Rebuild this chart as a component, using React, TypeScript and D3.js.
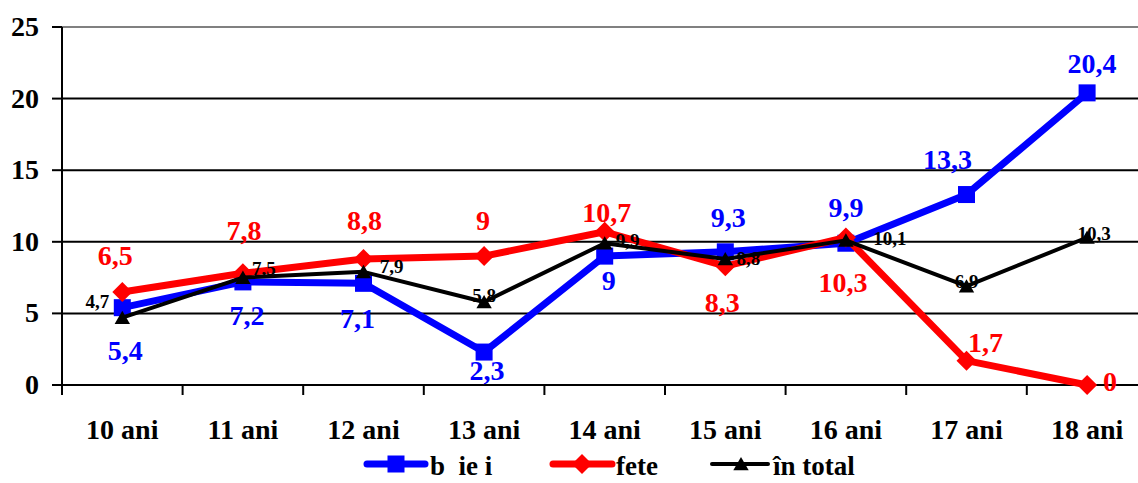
import React from "react";
import * as d3 from "d3";

// Age groups and rates per series
const categories = ["10 ani", "11 ani", "12 ani", "13 ani", "14 ani", "15 ani", "16 ani", "17 ani", "18 ani"];
const baieti = [5.4, 7.2, 7.1, 2.3, 9, 9.3, 9.9, 13.3, 20.4];
const fete = [6.5, 7.8, 8.8, 9, 10.7, 8.3, 10.3, 1.7, 0];
const total = [4.7, 7.5, 7.9, 5.8, 9.9, 8.8, 10.1, 6.9, 10.3];
const yTicks = [0, 5, 10, 15, 20, 25];
const legendLabels = ["b\u00a0\u00a0ie\u00a0i", "fete", "în total"];

// Label placement (centre dx, baseline dy) relative to each point
const blueLabelOffsets: [number, number][] = [[3, 52], [4, 43], [-6, 45], [3, 28], [4, 34], [3, -25], [0, -26], [-19, -26], [5, -20]];
const redLabelOffsets: [number, number][] = [[-7, -27], [1, -33], [1, -29], [-1, -26], [2, -10], [-3, 46], [-3, 54], [19, -9], [23, 6]];
const blackLabelOffsets: [number, number][] = [[-25, -10], [21, -3], [28, 1], [0, 0], [23, 4], [23, 6], [44, 5], [0, 2], [7, 2]];

const W = 1138;
const H = 483;
const FONT = "Liberation Serif";

const fmt = (v: number) => String(v).replace(".", ",");

export default function App() {
  const x = d3.scaleBand<string>().domain(categories).range([62, 62 + 9 * 120.6]).padding(0);
  const y = d3.scaleLinear().domain([0, 25]).range([385, 27]);
  const cx = (c: string) => (x(c) as number) + x.bandwidth() / 2;

  const line = d3
    .line<number>()
    .x((_, i) => cx(categories[i]))
    .y((d) => y(d));

  const square = (px: number, py: number, s: number) => (
    <rect x={px - s / 2} y={py - s / 2} width={s} height={s} fill="#0000FF" />
  );
  const diamond = (px: number, py: number, s: number) => (
    <path d={`M${px},${py - s / 2}L${px + s / 2},${py}L${px},${py + s / 2}L${px - s / 2},${py}Z`} fill="#FF0000" />
  );
  const triangle = (px: number, py: number, s: number) => (
    <path d={`M${px},${py - s * 0.5}L${px + s * 0.55},${py + s * 0.45}L${px - s * 0.55},${py + s * 0.45}Z`} fill="#000" />
  );

  const series = [
    { values: baieti, color: "#0000FF", width: 7, marker: (px: number, py: number) => square(px, py, 17), offsets: blueLabelOffsets, size: 28 },
    { values: fete, color: "#FF0000", width: 7, marker: (px: number, py: number) => diamond(px, py, 20), offsets: redLabelOffsets, size: 28 },
    { values: total, color: "#000000", width: 4, marker: (px: number, py: number) => triangle(px, py, 14), offsets: blackLabelOffsets, size: 19 },
  ];

  const boundaries = d3.range(categories.length + 1).map((i) => 62 + i * x.step());
  const textStyle = { fontFamily: FONT, fontWeight: 700 } as React.CSSProperties;

  return (
    <svg width={W} height={H} style={{ position: "absolute", left: 0, top: 0, background: "#fff" }}>
      {/* horizontal grid */}
      {yTicks.map((t) => (
        <line key={t} x1={62} x2={W} y1={y(t)} y2={y(t)} stroke={t === 25 ? "#808080" : "#000"} strokeWidth={2} />
      ))}
      {/* y axis */}
      <line x1={62} x2={62} y1={y(25)} y2={395} stroke="#000" strokeWidth={2} />
      {yTicks.map((t) => (
        <g key={"yt" + t}>
          <line x1={52} x2={62} y1={y(t)} y2={y(t)} stroke="#000" strokeWidth={2} />
          <text x={39} y={y(t) + 9} textAnchor="end" fontSize={28} style={textStyle}>{t}</text>
        </g>
      ))}
      {/* x axis ticks and labels */}
      {boundaries.map((bx, i) => (
        <line key={"xt" + i} x1={bx} x2={bx} y1={385} y2={395} stroke="#000" strokeWidth={2} />
      ))}
      {categories.map((c) => (
        <text key={c} x={cx(c)} y={439} textAnchor="middle" fontSize={28} style={textStyle}>{c}</text>
      ))}
      {/* series lines and markers */}
      {series.map((s, si) => (
        <g key={"s" + si}>
          <path d={line(s.values) as string} fill="none" stroke={s.color} strokeWidth={s.width} strokeLinejoin="round" />
          {s.values.map((v, i) => (
            <g key={i}>{s.marker(cx(categories[i]), y(v))}</g>
          ))}
        </g>
      ))}
      {/* data labels */}
      {series.map((s, si) =>
        s.values.map((v, i) => (
          <text
            key={"l" + si + "-" + i}
            x={cx(categories[i]) + s.offsets[i][0]}
            y={y(v) + s.offsets[i][1]}
            textAnchor="middle"
            fontSize={s.size}
            fill={s.color}
            style={textStyle}
          >
            {fmt(v)}
          </text>
        ))
      )}
      {/* legend */}
      {[
        { x1: 367, x2: 425, color: "#0000FF", w: 7, m: square(396, 464, 17), tx: 430, label: legendLabels[0] },
        { x1: 553, x2: 612, color: "#FF0000", w: 7, m: diamond(582, 464, 20), tx: 616, label: legendLabels[1] },
        { x1: 712, x2: 768, color: "#000000", w: 4, m: triangle(741, 464, 14), tx: 773, label: legendLabels[2] },
      ].map((l, i) => (
        <g key={"lg" + i}>
          <line x1={l.x1} x2={l.x2} y1={464} y2={464} stroke={l.color} strokeWidth={l.w} strokeLinecap="round" />
          {l.m}
          <text x={l.tx} y={475} fontSize={27} style={{ ...textStyle, whiteSpace: "pre" }}>{l.label}</text>
        </g>
      ))}
    </svg>
  );
}
